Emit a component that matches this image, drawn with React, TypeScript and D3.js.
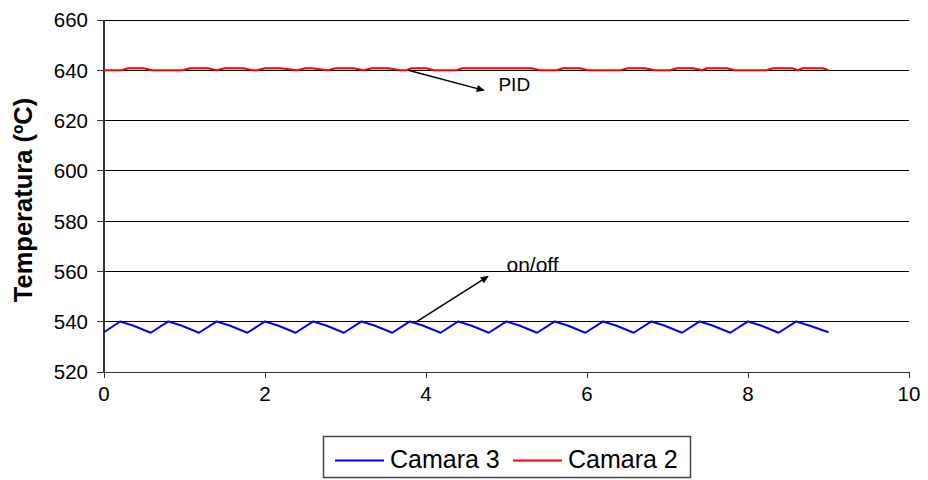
import React from "react";
import * as d3 from "d3";

const yTicks = [520, 540, 560, 580, 600, 620, 640, 660];
const xTicks = [0, 2, 4, 6, 8, 10];

// Camara 3 (on/off control) — vertices
const blueTimes = [
  0, 0.2, 0.36, 0.58, 0.8, 0.96, 1.18, 1.4, 1.56, 1.78, 2.0, 2.16, 2.38, 2.6, 2.76, 2.98,
  3.2, 3.36, 3.58, 3.8, 3.96, 4.18, 4.4, 4.56, 4.78, 5.0, 5.16, 5.38, 5.6, 5.76, 5.98,
  6.2, 6.36, 6.58, 6.8, 6.96, 7.18, 7.4, 7.56, 7.78, 8.0, 8.16, 8.38, 8.6, 8.76, 9.0,
];
const blueTemps = [
  535.8, 540.1, 538.5, 535.6, 540.1, 538.5, 535.6, 540.1, 538.5, 535.6, 540.1, 538.5, 535.6, 540.1, 538.5, 535.6,
  540.1, 538.5, 535.6, 540.1, 538.5, 535.6, 540.1, 538.5, 535.6, 540.1, 538.5, 535.6, 540.1, 538.5, 535.6,
  540.1, 538.5, 535.6, 540.1, 538.5, 535.6, 540.1, 538.5, 535.6, 540.1, 538.5, 535.6, 540.1, 538.5, 535.8,
];

// Camara 2 (PID control)
const redTimes = [
  0, 0.22, 0.3, 0.49, 0.6, 0.98, 1.07, 1.29, 1.4, 1.5, 1.73, 1.85, 1.9, 2.0, 2.19, 2.4,
  2.5, 2.58, 2.78, 2.88, 3.1, 3.22, 3.33, 3.53, 3.68, 3.76, 3.82, 4.0, 4.1, 4.38, 4.45,
  5.31, 5.42, 5.62, 5.7, 5.91, 6.02, 6.41, 6.51, 6.72, 6.84, 7.03, 7.12, 7.32, 7.43, 7.49,
  7.74, 7.84, 8.23, 8.31, 8.55, 8.62, 8.68, 8.93, 9.0,
];
const redTemps = [
  640, 640, 640.8, 640.8, 640, 640, 640.8, 640.8, 640, 640.8, 640.8, 640, 640, 640.8, 640.8, 640,
  640.8, 640.8, 640, 640.8, 640.8, 640, 640.8, 640.8, 640, 640, 640.8, 640.8, 640, 640, 640.8,
  640.8, 640, 640, 640.8, 640.8, 640, 640, 640.8, 640.8, 640, 640, 640.8, 640.8, 640, 640.8,
  640.8, 640, 640, 640.8, 640.8, 640, 640.8, 640.8, 640,
];

const seriesNames = ["Camara 3", "Camara 2"];
const seriesColors = ["#0000ff", "#ff0000"];

// annotations in data units
const annotLabels = ["PID", "on/off"];
const annotFrom = [[3.78, 640], [3.87, 539.7]];
const annotTo = [[4.72, 632.0], [4.77, 558.0]];
const annotText = [[4.9, 631.9], [5.0, 559.6]];
const annotSizes = [19, 21];

const W = 928;
const H = 480;
const FONT = "'Liberation Sans', Arial, sans-serif";

export default function App() {
  const x = d3.scaleLinear().domain([0, 10]).range([104, 909]);
  const y = d3.scaleLinear().domain([520, 660]).range([372, 20]);

  const mk = (ts: number[], vs: number[]) =>
    d3
      .line<number>()
      .x((t) => x(t))
      .y((_, i) => y(vs[i]))(ts) as string;

  const bluePath = mk(blueTimes, blueTemps);
  const redPath = mk(redTimes, redTemps);

  return (
    <svg
      width={W}
      height={H}
      style={{ position: "absolute", left: 0, top: 0, display: "block", background: "#fff" }}
      fontFamily={FONT}
    >
      <defs>
        <marker id="arrow" viewBox="0 0 10 10" refX="9" refY="5" markerWidth="9" markerHeight="8" orient="auto" markerUnits="userSpaceOnUse">
          <path d="M0,0.5 L10,5 L0,9.5 z" fill="#000" />
        </marker>
      </defs>
      {/* gridlines */}
      {yTicks.map((t) => (
        <line key={"g" + t} x1={x(0)} x2={x(10)} y1={y(t)} y2={y(t)} stroke="#000" strokeWidth={1} shapeRendering="crispEdges" />
      ))}
      {/* y ticks */}
      {yTicks.map((t) => (
        <g key={"yt" + t}>
          <line x1={x(0) - 7} x2={x(0)} y1={y(t)} y2={y(t)} stroke="#333" shapeRendering="crispEdges" />
          <text x={88} y={y(t)} dy="0.36em" textAnchor="end" fontSize={20.5} fill="#000">
            {t}
          </text>
        </g>
      ))}
      {/* x ticks */}
      {xTicks.map((t) => (
        <g key={"xt" + t}>
          <line x1={x(t)} x2={x(t)} y1={y(520)} y2={y(520) + 6} stroke="#333" shapeRendering="crispEdges" />
          <text x={x(t)} y={401} textAnchor="middle" fontSize={20.5} fill="#000">
            {t}
          </text>
        </g>
      ))}
      {/* axes */}
      <line x1={x(0)} x2={x(0)} y1={y(660)} y2={y(520)} stroke="#333" strokeWidth={2} shapeRendering="crispEdges" />
      <line x1={x(0)} x2={x(10)} y1={y(520)} y2={y(520)} stroke="#333" strokeWidth={1} shapeRendering="crispEdges" />

      {/* series */}
      <path d={bluePath} fill="none" stroke={seriesColors[0]} strokeWidth={2} strokeLinejoin="round" />
      <path d={redPath} fill="none" stroke={seriesColors[1]} strokeWidth={2} strokeLinejoin="round" />

      {/* annotations */}
      {annotLabels.map((lab, i) => (
        <g key={lab}>
          <line
            x1={x(annotFrom[i][0])}
            y1={y(annotFrom[i][1])}
            x2={x(annotTo[i][0])}
            y2={y(annotTo[i][1])}
            stroke="#000"
            strokeWidth={1.5}
            markerEnd="url(#arrow)"
          />
          <text x={x(annotText[i][0])} y={y(annotText[i][1])} fontSize={annotSizes[i]} fill="#000">
            {lab}
          </text>
        </g>
      ))}

      {/* y title */}
      <text
        transform={`translate(32, ${(y(660) + y(520)) / 2 + 4}) rotate(-90)`}
        textAnchor="middle"
        fontSize={25.5}
        fontWeight="bold"
        fill="#000"
      >
        Temperatura (ºC)
      </text>

      {/* legend */}
      <g>
        <rect x={323.5} y={436.5} width={367} height={41} fill="#fff" stroke="#444" strokeWidth={1.5} />
        {seriesNames.map((n, i) => {
          const lx = i === 0 ? 335 : 513;
          return (
            <g key={n}>
              <line x1={lx} x2={lx + 49} y1={460.5} y2={460.5} stroke={seriesColors[i]} strokeWidth={2} />
              <text x={lx + 55} y={468} fontSize={25} fill="#000">
                {n}
              </text>
            </g>
          );
        })}
      </g>
    </svg>
  );
}
